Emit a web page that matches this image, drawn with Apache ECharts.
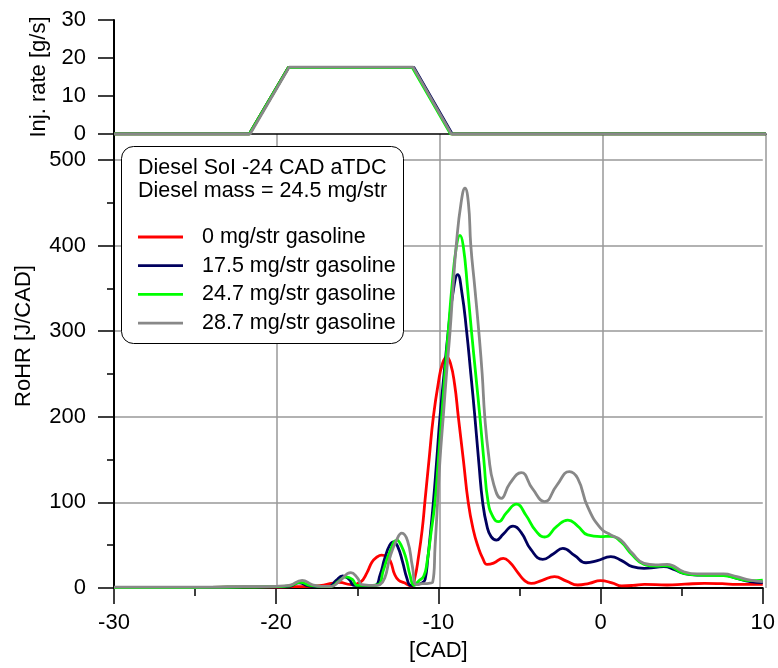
<!DOCTYPE html>
<html><head><meta charset="utf-8">
<script src="https://cdn.jsdelivr.net/npm/echarts@6/dist/echarts.min.js"></script>
<style>html,body{margin:0;padding:0;background:#fff}#c{width:778px;height:668px}</style>
</head><body><div id="c"></div>
<script>
// Series names and colours
const seriesNames = ['0 mg/str gasoline', '17.5 mg/str gasoline', '24.7 mg/str gasoline', '28.7 mg/str gasoline'];
const seriesColors = ['#ff0000', '#00005e', '#00ff00', '#888888'];
const headerLines = ['Diesel SoI -24 CAD aTDC', 'Diesel mass = 24.5 mg/str'];

// Injection rate [g/s] vs CAD
const inj0  = [[-30,0],[-21.7,0],[-19.3,17.5],[-11.65,17.5],[-9.3,0],[10,0]];
const inj17 = [[-30,0],[-21.7,0],[-19.3,17.5],[-11.6,17.5],[-9.25,0],[10,0]];
const inj24 = [[-30,0],[-21.7,0],[-19.3,17.5],[-11.7,17.5],[-9.35,0],[10,0]];
const inj28 = [[-30,0],[-21.65,0],[-19.25,17.6],[-11.65,17.6],[-9.3,0],[10,0]];

// RoHR [J/CAD] vs CAD
const rohr0 = [[-30,0.5],[-27,0.5],[-24,0.8],[-22,1],[-20,1],[-19,1.5],[-18,2],[-17.2,3],[-16.7,5],[-16.1,6.5],[-15.4,4],[-14.8,7],[-14.4,18],[-14.1,30],[-13.8,36],[-13.5,38.5],[-13.2,37],[-12.95,31],[-12.7,16],[-12.45,9],[-12.1,6],[-11.8,3],[-11.65,2.5],[-11.45,12],[-11.23,36],[-11.0,68],[-10.82,103],[-10.55,155],[-10.31,200],[-10.0,240],[-9.75,262],[-9.49,270],[-9.25,262],[-9.0,238],[-8.77,200],[-8.45,148],[-8.16,100],[-7.85,68],[-7.55,48],[-7.25,34],[-7.0,27.5],[-6.6,29],[-6.0,34.7],[-5.6,30],[-5.1,18],[-4.7,9],[-4.28,5.4],[-3.6,9],[-2.84,13.2],[-2.1,8],[-1.41,3.5],[-0.7,5.5],[0,8.6],[0.7,6],[1.3,2.5],[2,3],[2.7,4.3],[4.1,3.5],[5.2,4.5],[6.4,5.4],[7.5,5],[8.4,4.3],[10,4.3]];
const rohr17 = [[-30,0.5],[-27,0.5],[-24,0.8],[-22,1],[-20,1.2],[-19.2,2],[-18.6,6],[-18.0,2.5],[-17.2,1.5],[-16.7,2],[-16.3,9],[-15.9,14],[-15.5,10],[-15.2,3],[-14.5,2.5],[-13.9,3],[-13.6,15],[-13.3,35],[-13.0,50],[-12.76,54],[-12.5,48],[-12.2,30],[-11.95,12],[-11.7,3],[-11.4,4],[-11.0,6],[-10.82,10],[-10.65,35],[-10.51,60],[-10.31,100],[-10.1,150],[-9.9,200],[-9.65,250],[-9.39,300],[-9.1,345],[-8.81,366],[-8.55,345],[-8.26,300],[-8.0,250],[-7.75,200],[-7.5,145],[-7.27,100],[-7.0,72],[-6.75,60],[-6.42,56],[-6.0,63],[-5.4,72.4],[-4.9,65],[-4.3,45],[-3.56,33.5],[-2.9,40],[-2.33,46.3],[-1.6,38],[-0.9,29.5],[-0.2,32],[0.63,36.6],[1.3,32],[1.96,25],[2.68,23],[3.4,24],[3.9,25],[4.6,21],[5.13,17],[5.95,15.2],[7,15.2],[7.59,15],[8.4,11.3],[9.22,7.4],[10,6.2]];
const rohr24 = [[-30,0.5],[-27,0.5],[-24,0.8],[-22,1],[-20,1.5],[-19.2,2.5],[-18.5,6.5],[-17.9,3],[-17.2,2],[-16.6,2],[-16.2,7],[-15.7,13],[-15.3,10],[-15.0,3],[-14.2,3],[-13.7,4],[-13.4,20],[-13.0,42],[-12.55,56],[-12.3,50],[-12.0,35],[-11.75,15],[-11.5,3],[-11.23,8],[-10.9,14],[-10.7,30],[-10.45,65],[-10.21,100],[-10.0,150],[-9.8,200],[-9.6,250],[-9.39,300],[-9.15,355],[-8.88,400],[-8.67,412],[-8.47,400],[-8.2,350],[-7.96,300],[-7.7,250],[-7.44,200],[-7.2,150],[-6.93,100],[-6.6,82],[-6.3,77.5],[-5.8,88],[-5.19,98],[-4.6,85],[-4.0,67],[-3.45,59.6],[-2.7,72],[-2.02,79.4],[-1.41,72.4],[-0.8,62],[0,60],[0.63,60.4],[1.25,54],[1.96,38.5],[2.68,27.6],[3.4,25.5],[4.11,26],[5.13,17],[6.15,15.2],[7.59,14.4],[8.4,11.3],[9.22,8.6],[10,9.3]];
const rohr28 = [[-30,1],[-27,1],[-24,1],[-22,1.5],[-20,2],[-19.2,3],[-18.4,9],[-17.8,4],[-17.2,2],[-16.6,2],[-16.1,8],[-15.4,18],[-15.0,12],[-14.7,4],[-13.8,3],[-13.6,4],[-13.3,12],[-13.0,35],[-12.6,55],[-12.25,64],[-11.9,55],[-11.6,25],[-11.35,4],[-11.0,5],[-10.6,5.5],[-10.35,7],[-10.2,50],[-10.05,100],[-9.9,150],[-9.7,200],[-9.5,250],[-9.28,300],[-9.1,350],[-8.9,400],[-8.6,450],[-8.36,467],[-8.15,450],[-8.0,400],[-7.75,350],[-7.51,300],[-7.3,250],[-7.14,200],[-6.9,155],[-6.6,122],[-6.12,104.7],[-5.6,122],[-4.89,134.7],[-4.2,116],[-3.45,101],[-2.7,120],[-1.92,136],[-1.41,128],[-0.8,95],[0,70],[0.63,62],[1.25,56],[1.96,40.5],[2.68,28.8],[3.4,27],[4.11,27.6],[5.13,19],[5.95,16.4],[7.59,16.4],[8.4,13.2],[9.22,9.3],[10,7.4]];

const injData = [inj0, inj17, inj24, inj28];
const rohrData = [rohr0, rohr17, rohr24, rohr28];

const FONT = '"Liberation Sans", Arial, sans-serif';
const chart = echarts.init(document.getElementById('c'), null, {renderer: 'canvas'});

const series = [];
injData.forEach((d, i) => {
  series.push({
    name: seriesNames[i], type: 'line', xAxisIndex: 0, yAxisIndex: 0, data: d,
    symbol: 'none', lineStyle: {color: seriesColors[i], width: 2.8}, itemStyle: {color: seriesColors[i]},
    animation: false, z: 2
  });
});
rohrData.forEach((d, i) => {
  series.push({
    name: seriesNames[i], type: 'line', xAxisIndex: 1, yAxisIndex: 1, data: d,
    symbol: 'none', smooth: 0.5, lineStyle: {color: seriesColors[i], width: 2.8}, itemStyle: {color: seriesColors[i]},
    animation: false, z: 2
  });
});

const labelStyle = {color: '#000', fontSize: 22, fontFamily: FONT};
const gridLine = {show: true, lineStyle: {color: '#999', width: 1.5}};

chart.setOption({
  backgroundColor: '#fff',
  animation: false,
  grid: [
    {left: 114, right: 12, top: 20, height: 114},
    {left: 114, right: 12, top: 160, height: 428},
    {left: 114, right: 12, top: 134, height: 454}
  ],
  xAxis: [
    {gridIndex: 0, type: 'value', min: -30, max: 10, interval: 10,
     axisLine: {onZero: false, lineStyle: {color: '#000', width: 1.5}},
     axisTick: {show: false}, axisLabel: {show: false}, splitLine: {show: false}},
    {gridIndex: 1, type: 'value', min: -30, max: 10, interval: 10,
     name: '[CAD]', nameLocation: 'middle', nameGap: 52, nameTextStyle: labelStyle,
     axisLine: {onZero: false, lineStyle: {color: '#000', width: 2}},
     axisTick: {length: 16, lineStyle: {color: '#000', width: 1.5}},
     minorTick: {show: true, splitNumber: 2, length: 8, lineStyle: {color: '#000', width: 1.5}},
     axisLabel: Object.assign({margin: 24}, labelStyle),
     splitLine: {show: false}},
    {gridIndex: 2, type: 'value', min: -30, max: 10, interval: 10,
     axisLine: {show: false, onZero: false}, axisTick: {show: false}, axisLabel: {show: false},
     splitLine: gridLine}
  ],
  yAxis: [
    {gridIndex: 0, type: 'value', min: 0, max: 30, interval: 10,
     name: 'Inj. rate [g/s]', nameLocation: 'middle', nameRotate: 90, nameGap: 64, nameTextStyle: labelStyle,
     axisLine: {show: true, onZero: false, lineStyle: {color: '#000', width: 2}},
     axisTick: {length: 16, lineStyle: {color: '#000', width: 1.5}},
     axisLabel: Object.assign({margin: 28}, labelStyle),
     splitLine: {show: false}},
    {gridIndex: 1, type: 'value', min: 0, max: 500, interval: 100,
     name: 'RoHR [J/CAD]', nameLocation: 'middle', nameRotate: 90, nameGap: 79,
     nameTextStyle: Object.assign({padding: [0, 0, 0, 76]}, labelStyle),
     axisLine: {show: true, onZero: false, lineStyle: {color: '#000', width: 2}},
     axisTick: {length: 16, lineStyle: {color: '#000', width: 1.5}},
     minorTick: {show: true, splitNumber: 2, length: 7, lineStyle: {color: '#000', width: 1.5}},
     axisLabel: Object.assign({margin: 28}, labelStyle),
     splitLine: gridLine},
    {gridIndex: 2, type: 'value', min: 0, max: 1,
     axisLine: {show: true, onZero: false, lineStyle: {color: '#000', width: 2}},
     axisTick: {show: false}, axisLabel: {show: false}, splitLine: {show: false}}
  ],
  legend: {
    data: seriesNames, orient: 'vertical', left: 138, top: 226, padding: 0,
    icon: 'rect', itemWidth: 45, itemHeight: 2.8, itemGap: 6.7, selectedMode: false,
    textStyle: {color: '#000', fontSize: 21.5, fontFamily: FONT, lineHeight: 22, padding: [0, 0, 0, 14]},
    z: 10
  },
  graphic: [
    {type: 'rect', left: 121, top: 146, z: 5,
     shape: {width: 282, height: 197, r: 12},
     style: {fill: '#fff', stroke: '#000', lineWidth: 1}},
    {type: 'text', left: 138, top: 157, z: 6,
     style: {text: headerLines[0], font: '21.5px ' + FONT, fill: '#000'}},
    {type: 'text', left: 138, top: 180, z: 6,
     style: {text: headerLines[1], font: '21.5px ' + FONT, fill: '#000'}}
  ],
  series: series
});
</script>
</body></html>
